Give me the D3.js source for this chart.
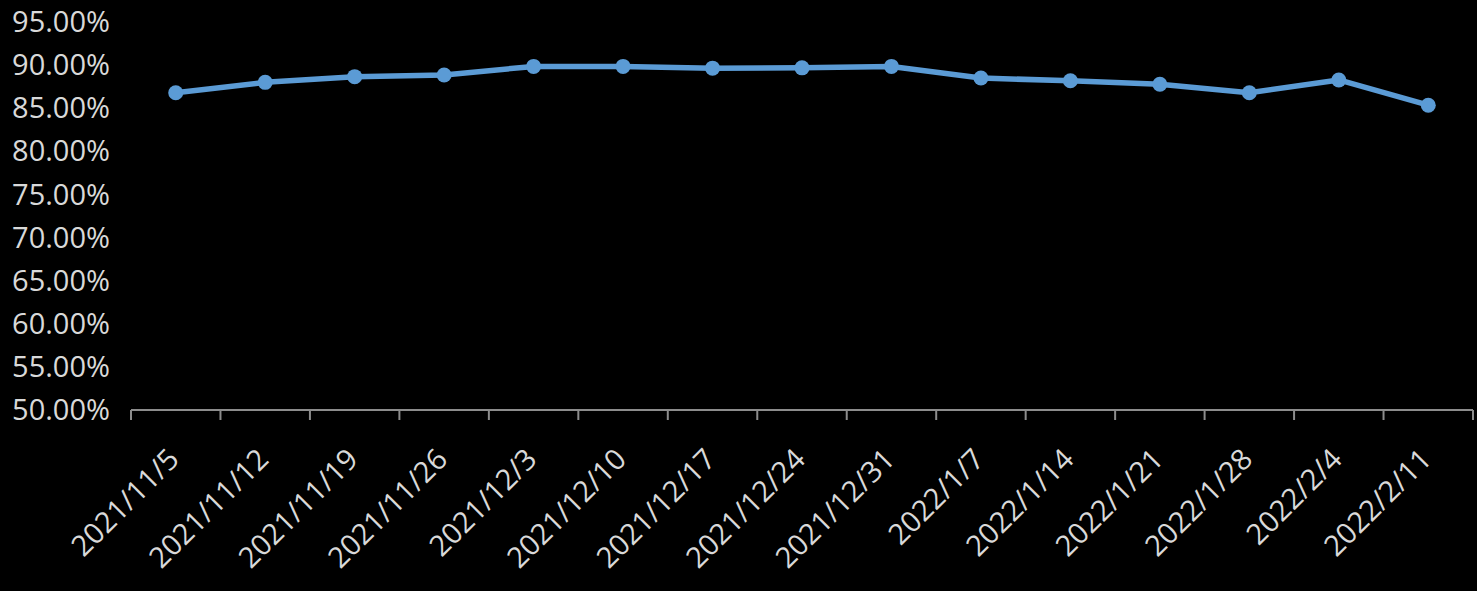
<!DOCTYPE html>
<html>
<head>
<meta charset="utf-8">
<script src="https://cdn.jsdelivr.net/npm/d3@7"></script>
<style>
  html, body { margin: 0; padding: 0; background: #000; }
  svg { display: block; }
  text { font-family: "Open Sans", "Noto Sans", sans-serif; fill: #d9d9d9; }
</style>
</head>
<body>
<svg id="chart" width="1477" height="591"></svg>
<script>
// data
const dates = ["2021/11/5", "2021/11/12", "2021/11/19", "2021/11/26", "2021/12/3",
    "2021/12/10", "2021/12/17", "2021/12/24", "2021/12/31", "2022/1/7",
    "2022/1/14", "2022/1/21", "2022/1/28", "2022/2/4", "2022/2/11"];
const rates = [0.8680, 0.8800, 0.8866, 0.8886, 0.8985,
    0.8985, 0.8965, 0.8968, 0.8985, 0.8850,
    0.8818, 0.8778, 0.8680, 0.8828, 0.8535];
const yTicks = [0.50, 0.55, 0.60, 0.65, 0.70, 0.75, 0.80, 0.85, 0.90, 0.95];

const svg = d3.select("#chart");
const plotLeft = 131, plotRight = 1473, plotTop = 22, plotBottom = 410;

const x = d3.scaleBand().domain(dates).range([plotLeft, plotRight]);
const y = d3.scaleLinear().domain([0.5, 0.95]).range([plotBottom, plotTop]);

// y labels (no axis line in the original)
svg.append("g")
    .selectAll("text")
    .data(yTicks)
    .enter()
    .append("text")
    .attr("x", 110)
    .attr("y", d => y(d))
    .attr("dy", "0.35em")
    .attr("text-anchor", "end")
    .style("font-size", "29px")
    .text(d => d3.format(".2%")(d));

// x axis
const xAxis = svg.append("g").attr("transform", `translate(0,${plotBottom})`);
xAxis.append("line")
    .attr("x1", plotLeft).attr("x2", plotRight)
    .attr("stroke", "#8c8c8c").attr("stroke-width", 2);
const bounds = dates.map(d => x(d)).concat([plotRight]);
xAxis.selectAll(".tk")
    .data(bounds)
    .enter()
    .append("line")
    .attr("class", "tk")
    .attr("x1", d => d).attr("x2", d => d)
    .attr("y1", 0).attr("y2", 10)
    .attr("stroke", "#8c8c8c").attr("stroke-width", 2);

xAxis.selectAll(".lbl")
    .data(dates)
    .enter()
    .append("text")
    .attr("class", "lbl")
    .attr("text-anchor", "end")
    .attr("transform", d => `translate(${x(d) + x.bandwidth() / 2 + 5},${51}) rotate(-45)`)
    .style("font-size", "29px")
    .text(d => d);

// line + markers
const line = d3.line()
    .x((d, i) => x(dates[i]) + x.bandwidth() / 2)
    .y(d => y(d));

svg.append("path")
    .datum(rates)
    .attr("d", line)
    .attr("fill", "none")
    .attr("stroke", "#5b9bd5")
    .attr("stroke-width", 5.5)
    .attr("stroke-linejoin", "round");

svg.append("g")
    .selectAll("circle")
    .data(rates)
    .enter()
    .append("circle")
    .attr("cx", (d, i) => x(dates[i]) + x.bandwidth() / 2)
    .attr("cy", d => y(d))
    .attr("r", 7.5)
    .attr("fill", "#5b9bd5");
</script>
</body>
</html>
